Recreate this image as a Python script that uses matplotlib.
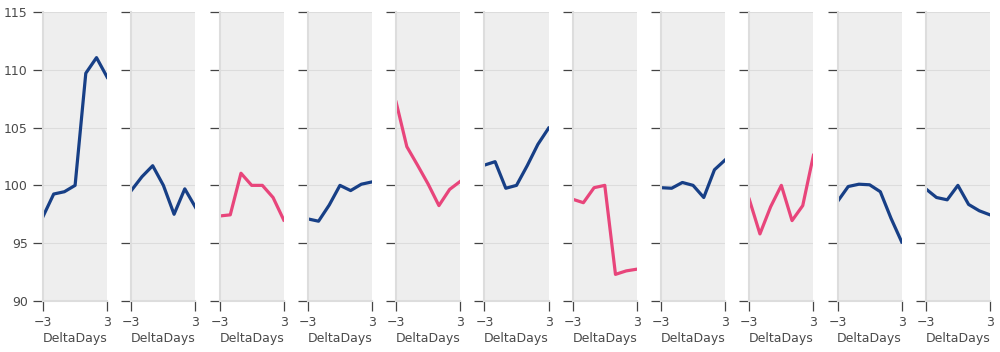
import numpy as np
import matplotlib.pyplot as plt

delta_days = [-3, -2, -1, 0, 1, 2, 3]

panel_values = [
    [97.3, 99.25, 99.45, 100.0, 109.7, 111.05, 109.35],
    [99.55, 100.75, 101.7, 100.0, 97.5, 99.7, 98.1],
    [97.35, 97.45, 101.05, 100.0, 100.0, 98.95, 97.0],
    [97.1, 96.9, 98.3, 100.0, 99.55, 100.1, 100.3],
    [107.2, 103.35, 101.75, 100.1, 98.25, 99.65, 100.35],
    [101.75, 102.05, 99.75, 100.0, 101.7, 103.55, 104.95],
    [98.8, 98.5, 99.8, 100.0, 92.3, 92.6, 92.75],
    [99.8, 99.75, 100.25, 100.0, 98.95, 101.35, 102.2],
    [98.8, 95.8, 98.15, 100.0, 96.95, 98.25, 102.6],
    [98.6, 99.9, 100.1, 100.05, 99.45, 97.15, 95.1],
    [99.7, 98.95, 98.75, 100.0, 98.35, 97.8, 97.45],
]
panel_colors = ["navy", "navy", "pink", "navy", "pink", "navy",
                "pink", "navy", "pink", "navy", "navy"]
color_map = {"navy": "#173f86", "pink": "#e8457b"}

fig, axes = plt.subplots(1, len(panel_values), figsize=(10, 3.52), dpi=100, sharey=True)
fig.subplots_adjust(left=0.043, right=0.99, top=0.966, bottom=0.145, wspace=0.375)

for i, ax in enumerate(axes):
    ax.set_facecolor("#eeeeee")
    ax.grid(axis="y", color="#dcdcdc", linewidth=0.8)
    ax.set_axisbelow(True)
    ax.plot(delta_days, panel_values[i], color=color_map[panel_colors[i]], linewidth=2.3)
    ax.set_xlim(-3, 3)
    ax.set_ylim(90, 115)
    ax.set_xticks([-3, 3])
    ax.set_yticks([90, 95, 100, 105, 110, 115])
    for side in ["top", "right"]:
        ax.spines[side].set_visible(False)
    for side in ["left", "bottom"]:
        ax.spines[side].set_color("#dddddd")
        ax.spines[side].set_linewidth(1.5)
    ax.tick_params(axis="both", colors="#444444", labelcolor="#4a4a4a",
                   length=7, width=0.9, labelsize=9, direction="out", pad=4)
    ax.set_xlabel("DeltaDays", color="#4a4a4a", fontsize=9, labelpad=2)

plt.savefig("out.png")
